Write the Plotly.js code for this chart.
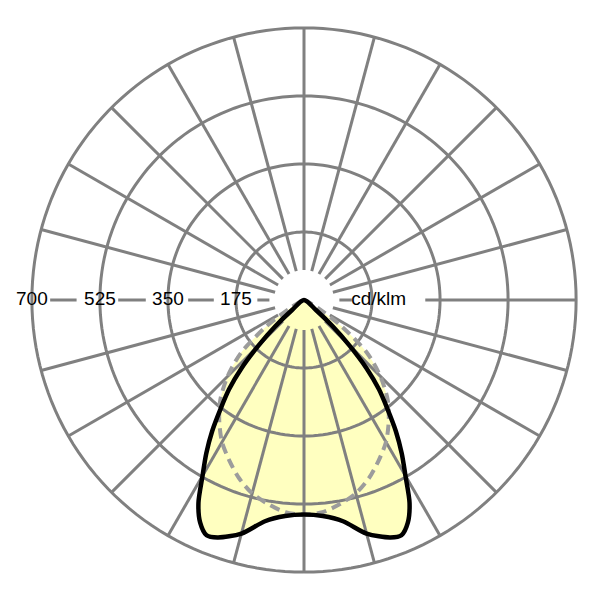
<!DOCTYPE html>
<html>
<head>
<meta charset="utf-8">
<script src="https://cdn.plot.ly/plotly-3.0.1.min.js"></script>
<style>
  html, body { margin: 0; padding: 0; background: #fff; }
  #myDiv { width: 600px; height: 600px; }
</style>
</head>
<body>
<div id="myDiv"></div>
<script>
// C0-C180 plane (solid), gamma measured from nadir, cd/klm
var gammaC0 = [0, 5, 10, 15, 20, 22.5, 25, 27.5, 30, 32.5, 35, 37.5, 40, 42.5, 45, 47.5, 50, 52.5];
var valuesC0 = [552, 558, 578, 622, 650, 655, 632, 588, 522, 468, 412, 352, 300, 238, 165, 100, 40, 0];

// C90-C270 plane (dashed)
var gammaC90 = [0, 5, 10, 15, 20, 25, 30, 35, 40, 45, 50, 55, 60, 62.5, 65, 67.5];
var valuesC90 = [552, 548, 533, 515, 488, 455, 422, 380, 335, 278, 212, 118, 42, 22, 8, 0];

// radial ticks
var ringValues = [175, 350, 525, 700];
var ringLabels = ['175', '350', '525', '700'];
var unitLabel = 'cd/klm';

var RMAX = 700;
var SPOKE_START = 77;

// mirror one half-plane onto both sides of the nadir
function mirror(gammas, vals) {
  var th = [], r = [];
  for (var i = gammas.length - 1; i >= 0; i--) { th.push(-gammas[i]); r.push(vals[i]); }
  for (var j = 1; j < gammas.length; j++) { th.push(gammas[j]); r.push(vals[j]); }
  return { theta: th, r: r };
}

var c0 = mirror(gammaC0, valuesC0);
var c90 = mirror(gammaC90, valuesC90);

var yellow = '#ffffc0';
var grid = '#808080';

// grid: rings
var ringR = [], ringT = [];
ringValues.forEach(function (v) {
  for (var a = 0; a <= 360; a += 2) { ringR.push(v); ringT.push(a); }
  ringR.push(null); ringT.push(null);
});

// grid: spokes every 15 deg, horizontal ones are done separately
var spokeR = [], spokeT = [];
for (var a = 0; a < 360; a += 15) {
  if (a === 90 || a === 270) continue;
  spokeR.push(SPOKE_START, RMAX, null);
  spokeT.push(a, a, null);
}

// horizontal line, broken where the labels sit
var hSegs = [
  [270, 585, 653], [270, 407, 478], [270, 232, 298], [270, 89, 120],
  [90, 91, 123], [90, 312, 700]
];
var hR = [], hT = [];
hSegs.forEach(function (s) {
  hR.push(s[1], s[2], null);
  hT.push(s[0], s[0], null);
});

var labelFont = { family: 'Liberation Sans, Arial, sans-serif', size: 19, color: '#000' };

var data = [
  {
    type: 'scatterpolar', r: c90.r, theta: c90.theta, mode: 'lines',
    fill: 'toself', fillcolor: yellow, line: { width: 0, shape: 'spline', smoothing: 0.8 },
    hoverinfo: 'skip'
  },
  {
    type: 'scatterpolar', r: c0.r, theta: c0.theta, mode: 'lines',
    fill: 'toself', fillcolor: yellow, line: { width: 0, shape: 'spline', smoothing: 0.8 },
    hoverinfo: 'skip'
  },
  {
    type: 'scatterpolar', r: ringR, theta: ringT, mode: 'lines',
    line: { color: grid, width: 3 }, connectgaps: false, cliponaxis: false, hoverinfo: 'skip'
  },
  {
    type: 'scatterpolar', r: spokeR, theta: spokeT, mode: 'lines',
    line: { color: grid, width: 3 }, connectgaps: false, cliponaxis: false, hoverinfo: 'skip'
  },
  {
    type: 'scatterpolar', r: hR, theta: hT, mode: 'lines',
    line: { color: grid, width: 3 }, connectgaps: false, cliponaxis: false, hoverinfo: 'skip'
  },
  {
    type: 'scatterpolar', r: c90.r, theta: c90.theta, mode: 'lines', name: 'C90-C270',
    line: { color: '#9c9c9c', width: 4, dash: '10px,6px', shape: 'spline', smoothing: 0.8 }
  },
  {
    type: 'scatterpolar', r: c0.r, theta: c0.theta, mode: 'lines', name: 'C0-C180',
    line: { color: '#000000', width: 4.5, shape: 'spline', smoothing: 0.8 }
  },
  {
    type: 'scatterpolar', r: ringValues, theta: ringValues.map(function () { return 270; }),
    mode: 'text', text: ringLabels, textposition: 'middle center', cliponaxis: false,
    textfont: labelFont, hoverinfo: 'skip'
  },
  {
    type: 'scatterpolar', r: [192], theta: [90], mode: 'text', text: [unitLabel],
    textposition: 'middle center', cliponaxis: false,
    textfont: labelFont, hoverinfo: 'skip'
  }
];

var layout = {
  width: 600,
  height: 600,
  showlegend: false,
  paper_bgcolor: '#fff',
  margin: { l: 28, r: 20, t: 24, b: 24 },
  polar: {
    bgcolor: '#fff',
    radialaxis: { range: [0, 710], visible: false },
    angularaxis: { visible: false, rotation: 270, direction: 'counterclockwise' }
  }
};

Plotly.newPlot('myDiv', data, layout, { displayModeBar: false, staticPlot: true });
</script>
</body>
</html>
